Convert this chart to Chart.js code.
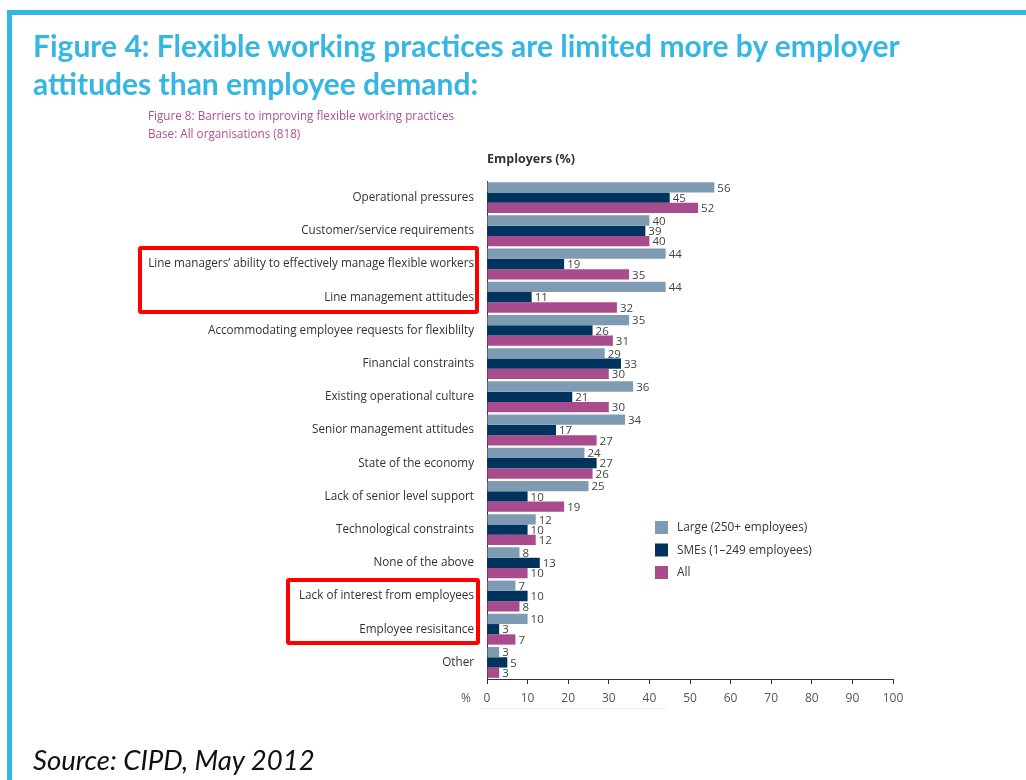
<!DOCTYPE html>
<html>
<head>
<meta charset="utf-8">
<script src="https://cdn.jsdelivr.net/npm/chart.js@4"></script>
<style>
  html, body { margin:0; padding:0; background:#fff; }
  body { width:1026px; height:780px; position:relative; overflow:hidden; font-family:"Open Sans", sans-serif; }
  #c { position:absolute; left:0; top:0; }
  .abs { position:absolute; white-space:nowrap; }
  #btop { left:7px; top:10px; width:1019px; height:5px; background:#33b7e4; }
  #bleft { left:7px; top:10px; width:5px; height:770px; background:#33b7e4; }
  #title { left:33px; top:26px; font-family:Lato, sans-serif; font-weight:bold; font-size:30px; line-height:38px; color:#35b6e4; }
  #sub { left:148px; top:106px; font-size:11.7px; line-height:18px; color:#b24f93; }
  #emp { left:487px; top:150px; font-size:12.5px; font-weight:bold; color:#333; }
  #pct { left:461px; top:689px; font-size:12px; color:#555; }
  .red { border:4px solid #f00; border-radius:3px; box-sizing:border-box; }
  #r1 { left:138px; top:246px; width:341px; height:68px; }
  #r2 { left:286px; top:578px; width:194px; height:67px; }
  #faint { left:480px; top:708px; width:186px; height:1px; background:#eee; }
  #src { left:33px; top:743px; font-family:Lato, sans-serif; font-style:italic; font-size:27.5px; color:#111; }
</style>
</head>
<body>
<canvas id="c" width="1026" height="780"></canvas>
<div class="abs" id="btop"></div>
<div class="abs" id="bleft"></div>
<div class="abs" id="title">Figure 4: Flexible working practices are limited more by employer<br>attitudes than employee demand:</div>
<div class="abs" id="sub">Figure 8: Barriers to improving flexible working practices<br>Base: All organisations (818)</div>
<div class="abs" id="emp">Employers (%)</div>
<div class="abs" id="pct">%</div>
<div class="abs red" id="r1"></div>
<div class="abs red" id="r2"></div>
<div class="abs" id="faint"></div>
<div class="abs" id="src">Source: CIPD, May 2012</div>
<script>
const categories = [
  "Operational pressures",
  "Customer/service requirements",
  "Line managers\u2019 ability to effectively manage flexible workers",
  "Line management attitudes",
  "Accommodating employee requests for flexiblilty",
  "Financial constraints",
  "Existing operational culture",
  "Senior management attitudes",
  "State of the economy",
  "Lack of senior level support",
  "Technological constraints",
  "None of the above",
  "Lack of interest from employees",
  "Employee resisitance",
  "Other"
];
const largeValues = [56, 40, 44, 44, 35, 29, 36, 34, 24, 25, 12, 8, 7, 10, 3];
const smeValues   = [45, 39, 19, 11, 26, 33, 21, 17, 27, 10, 10, 13, 10, 3, 5];
const allValues   = [52, 40, 35, 32, 31, 30, 30, 27, 26, 19, 12, 10, 8, 7, 3];
const seriesNames = ["Large (250+ employees)", "SMEs (1\u2013249 employees)", "All"];
const seriesColors = ["#7f9bb4", "#00345f", "#a94c8d"];
const xTicks = [0, 10, 20, 30, 40, 50, 60, 70, 80, 90, 100];

const valueLabels = {
  id: 'valueLabels',
  afterDatasetsDraw(chart) {
    const ctx = chart.ctx;
    ctx.save();
    ctx.font = '11.5px "Open Sans", sans-serif';
    ctx.fillStyle = '#444';
    ctx.textAlign = 'left';
    ctx.textBaseline = 'middle';
    chart.data.datasets.forEach((ds, i) => {
      const meta = chart.getDatasetMeta(i);
      meta.data.forEach((el, j) => {
        ctx.fillText(String(ds.data[j]), el.x + 3, el.y + 1);
      });
    });
    ctx.restore();
  }
};

const boxLegend = {
  id: 'boxLegend',
  afterDraw(chart) {
    const ctx = chart.ctx;
    ctx.save();
    ctx.font = '11.8px "Open Sans", sans-serif';
    ctx.textBaseline = 'middle';
    chart.data.datasets.forEach((ds, i) => {
      const y = 527 + i * 22.5;
      ctx.fillStyle = ds.backgroundColor;
      ctx.fillRect(655, y - 6, 13, 13);
      ctx.fillStyle = '#333';
      ctx.fillText(ds.label, 677, y + 1);
    });
    ctx.restore();
  }
};

new Chart(document.getElementById('c'), {
  type: 'bar',
  data: {
    labels: categories,
    datasets: [
      { label: seriesNames[0], data: largeValues, backgroundColor: seriesColors[0] },
      { label: seriesNames[1], data: smeValues, backgroundColor: seriesColors[1] },
      { label: seriesNames[2], data: allValues, backgroundColor: seriesColors[2] }
    ]
  },
  options: {
    indexAxis: 'y',
    responsive: false,
    animation: false,
    devicePixelRatio: 1,
    layout: { padding: { left: 0, top: 181, right: 133, bottom: 71 } },
    datasets: { bar: { categoryPercentage: 0.93, barPercentage: 1.0, borderWidth: 0 } },
    plugins: { legend: { display: false }, tooltip: { enabled: false }, title: { display: false } },
    scales: {
      x: {
        min: 0, max: 100,
        afterFit(scale) { scale.height = 30; },
        afterBuildTicks(scale) { scale.ticks = xTicks.map(v => ({ value: v })); },
        grid: { display: true, drawOnChartArea: false, drawTicks: true, tickLength: 5, color: '#333' },
        border: { display: true, color: '#333', width: 1 },
        ticks: { color: '#555', font: { family: '"Open Sans", sans-serif', size: 12 }, padding: 7, maxRotation: 0 }
      },
      y: {
        afterFit(scale) { scale.width = 487; },
        grid: { display: false, drawTicks: false },
        border: { display: true, color: '#333', width: 1 },
        ticks: { color: '#333', font: { family: '"Open Sans", sans-serif', size: 11.7 }, padding: 13, autoSkip: false }
      }
    }
  },
  plugins: [valueLabels, boxLegend]
});
</script>
</body>
</html>
